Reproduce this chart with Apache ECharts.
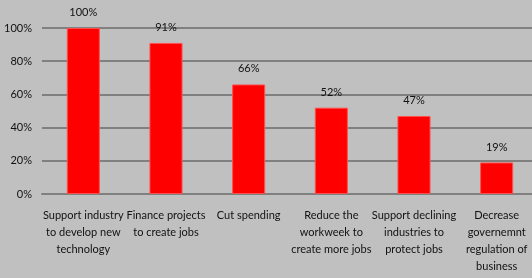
<!DOCTYPE html>
<html>
<head>
<meta charset="utf-8">
<script src="https://cdn.jsdelivr.net/npm/echarts@6/dist/echarts.min.js"></script>
<style>
  html, body { margin: 0; padding: 0; background: #c0c0c0; }
  #chart { width: 532px; height: 278px; }
</style>
</head>
<body>
<div id="chart"></div>
<script>
const categories = [
  "Support industry\nto develop new\ntechnology",
  "Finance projects\nto create jobs",
  "Cut spending",
  "Reduce the\nworkweek to\ncreate more jobs",
  "Support declining\nindustries to\nprotect jobs",
  "Decrease\ngovernemnt\nregulation of\nbusiness",
];
const values = [100, 91, 66, 52, 47, 19];

const chart = echarts.init(document.getElementById("chart"), null, { renderer: "canvas" });

chart.setOption({
  backgroundColor: "#c0c0c0",
  textStyle: { fontFamily: "Lato" },
  grid: { left: 42, width: 496, top: 28, height: 166, outerBoundsMode: "none", containLabel: false },
  xAxis: {
    type: "category",
    data: categories,
    axisTick: { show: false },
    axisLine: { lineStyle: { color: "#808080", width: 2 } },
    axisLabel: {
      interval: 0,
      color: "#111",
      fontSize: 11,
      lineHeight: 17,
      margin: 13,
    },
  },
  yAxis: {
    type: "value",
    min: 0,
    max: 100,
    interval: 20,
    axisLine: { show: false },
    axisTick: { show: false },
    splitLine: { lineStyle: { color: "#808080", width: 2 } },
    axisLabel: {
      color: "#111",
      fontSize: 11,
      margin: 10,
      formatter: "{value}%",
    },
  },
  series: [
    {
      type: "bar",
      data: values,
      barWidth: "40%",
      itemStyle: { color: "#ff0000", borderColor: "#ff5050", borderWidth: 1 },
      label: {
        show: true,
        position: "top",
        distance: 10,
        color: "#111",
        fontSize: 11,
        formatter: "{c}%",
      },
    },
  ],
});
</script>
</body>
</html>
